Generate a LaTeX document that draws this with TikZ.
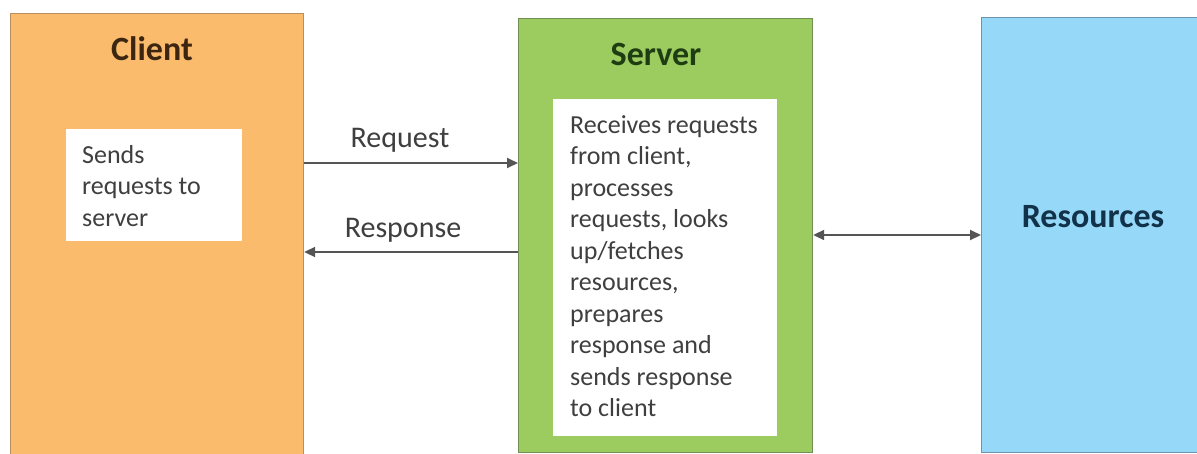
\documentclass[tikz,border=0pt]{standalone}
\usepackage{fontspec}
\setmainfont{Carlito}
\usetikzlibrary{arrows.meta}
\definecolor{cliorange}{HTML}{FABC6C}
\definecolor{cliborder}{HTML}{B89060}
\definecolor{srvgreen}{HTML}{9CCB5F}
\definecolor{srvborder}{HTML}{6F8F55}
\definecolor{resblue}{HTML}{95D8F7}
\definecolor{resborder}{HTML}{6E93A8}
\definecolor{clititle}{HTML}{3D2611}
\definecolor{srvtitle}{HTML}{1F3D12}
\definecolor{restitle}{HTML}{12324A}
\definecolor{bodytext}{HTML}{3F3F3F}
\definecolor{arrowgray}{HTML}{555555}
\begin{document}
\begin{tikzpicture}[x=1pt,y=-1pt,
  bigbox/.style={rectangle, inner sep=0pt, anchor=north west, line width=1.2pt},
  whitebox/.style={rectangle, inner sep=0pt, anchor=north west, fill=white, draw=none},
  titletext/.style={font={\fontsize{34}{40}\selectfont\bfseries}, inner sep=0pt, anchor=base},
  bodyblock/.style={font={\fontsize{26}{31.5}\selectfont}, text=bodytext, inner sep=0pt, anchor=north west, align=left},
  labeltext/.style={font={\fontsize{30}{36}\selectfont}, text=bodytext, inner sep=0pt, anchor=base},
  arr/.style={draw=arrowgray, line width=2pt, -{Triangle[length=11pt,width=10pt]}},
  darr/.style={draw=arrowgray, line width=2pt, {Triangle[length=11pt,width=10pt]}-{Triangle[length=11pt,width=10pt]}}
]
\useasboundingbox (0,0) rectangle (1197,453);
\clip (0,0) rectangle (1197,453);
\fill[white] (0,0) rectangle (1197,453);

% Boxes
\node[bigbox, fill=cliorange, draw=cliborder, minimum width=293pt, minimum height=450pt] (client) at (10,13) {};
\node[bigbox, fill=srvgreen, draw=srvborder, minimum width=294pt, minimum height=434pt] (server) at (518,18) {};
\node[bigbox, fill=resblue, draw=resborder, minimum width=240pt, minimum height=435pt] (res) at (981,17) {};

% Inner white boxes
\node[whitebox, minimum width=176pt, minimum height=112pt] (cliinner) at (66,129) {};
\node[whitebox, minimum width=224pt, minimum height=337pt] (srvinner) at (553,99) {};

% Titles
\node[titletext, text=clititle] (clititlenode) at (152,60) {Client};
\node[titletext, text=srvtitle] (srvtitlenode) at (656,65) {Server};
\node[titletext, text=restitle] (restitlenode) at (1093,227) {Resources};

% Body texts
\node[bodyblock] (clibody) at (82,143) {\rule{0pt}{20pt}Sends\\requests to\\server};
\node[bodyblock] (srvbody) at (570,113) {\rule{0pt}{20pt}Receives requests\\from client,\\processes\\requests, looks\\up/fetches\\resources,\\prepares\\response and\\sends response\\to client};

% Labels
\node[labeltext] (reqlabel) at (400,147) {Request};
\node[labeltext] (resplabel) at (403,237) {Response};

% Connectors
\coordinate (rq) at (0,163);
\coordinate (rs) at (0,252);
\coordinate (rr) at (0,235);
\draw[arr] (client.east |- rq) -- (server.west |- rq);
\draw[arr] (server.west |- rs) -- (client.east |- rs);
\draw[darr] (server.east |- rr) -- (res.west |- rr);
\end{tikzpicture}
\end{document}
